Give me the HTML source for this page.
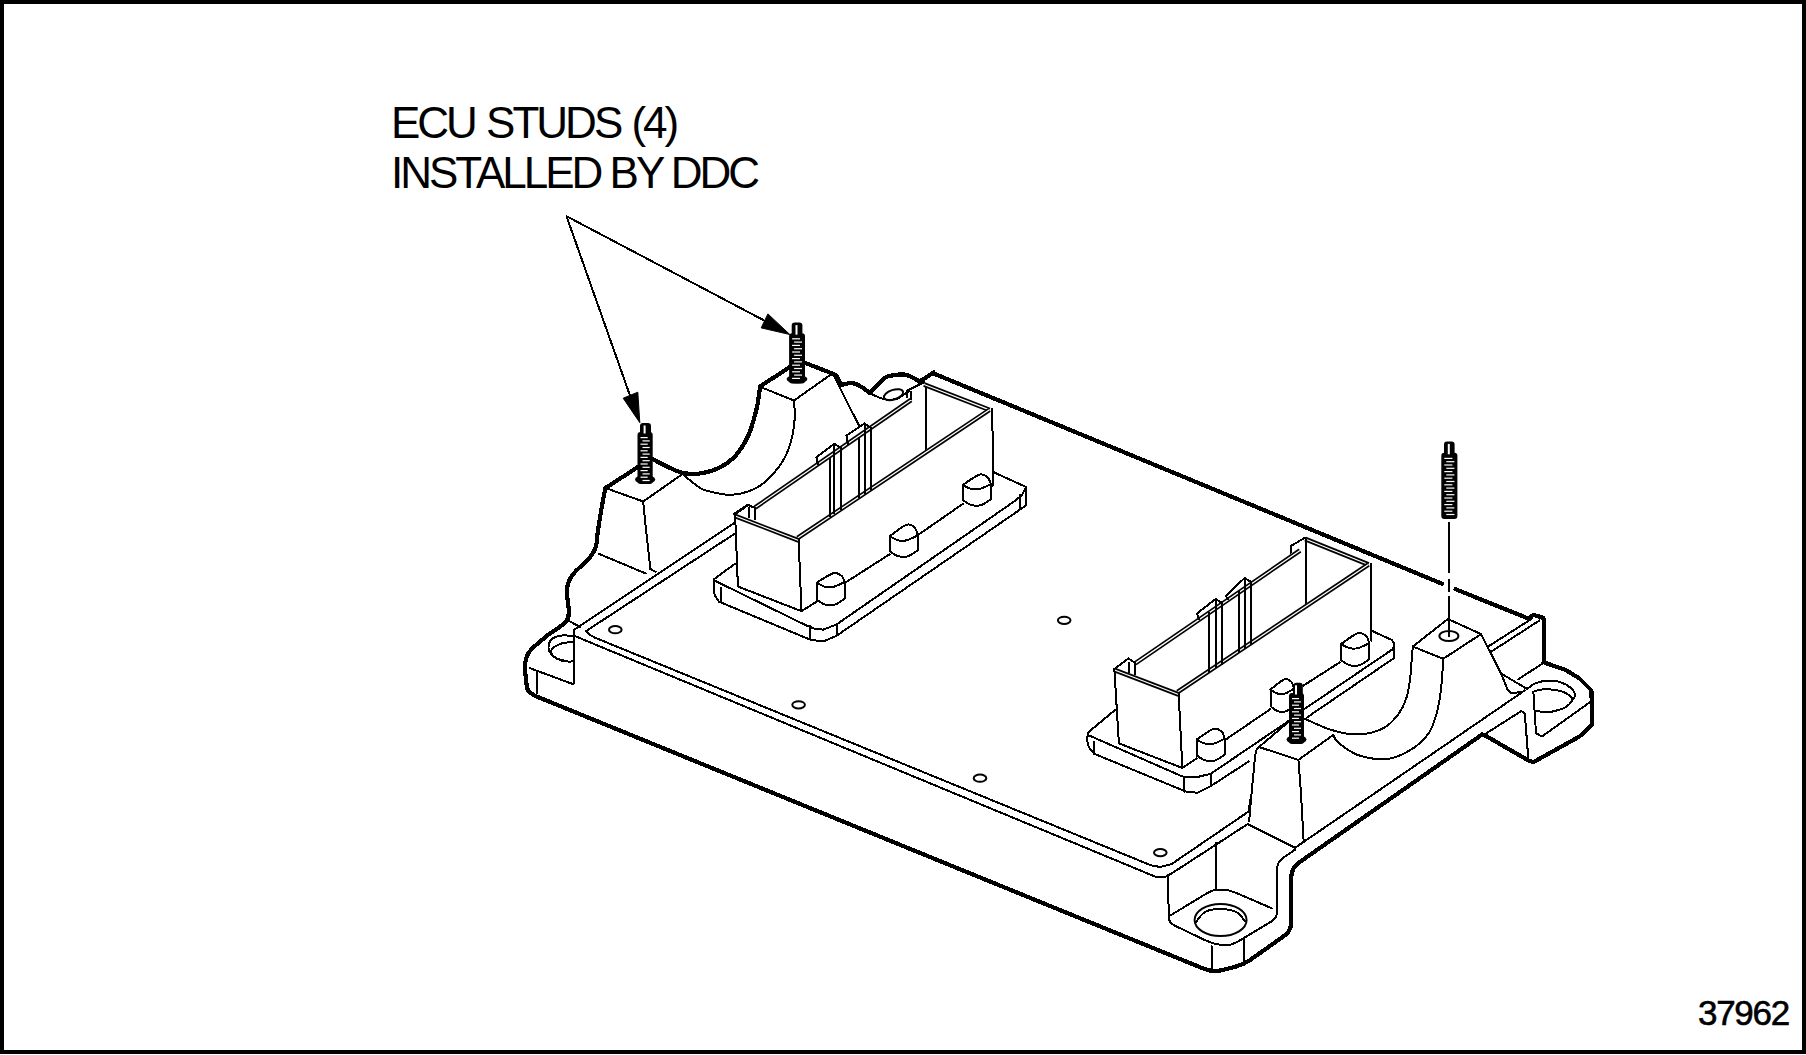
<!DOCTYPE html>
<html><head><meta charset="utf-8">
<style>
html,body{margin:0;padding:0;background:#fff;}
body{width:1806px;height:1055px;overflow:hidden;position:relative;}
.frame{position:absolute;left:0;top:0;width:1798px;height:1046px;border:4px solid #000;}
.t{position:absolute;font-family:"Liberation Sans",sans-serif;color:#000;white-space:nowrap;line-height:1;}
svg{position:absolute;left:0;top:0;}
.k{fill:none;stroke:#000;stroke-width:4.2;shape-rendering:crispEdges;stroke-linejoin:round;stroke-linecap:round;}
.n{fill:none;stroke:#000;stroke-width:2;shape-rendering:crispEdges;stroke-linejoin:round;stroke-linecap:round;}
</style></head><body>
<div class="frame"></div>
<div class="t" style="left:391px;top:101px;font-size:44px;letter-spacing:-3px;word-spacing:2px;">ECU STUDS (4)</div>
<div class="t" style="left:391px;top:151px;font-size:44px;letter-spacing:-3px;">INSTALLED BY DDC</div>
<div class="t" style="left:1698px;top:995px;font-size:35px;letter-spacing:-1.3px;-webkit-text-stroke:0.6px #000;">37962</div>
<svg width="1806" height="1055" viewBox="0 0 1806 1055">
<path class="n" d="M566.5 216.2 L768.5 322.8" stroke-width="2"/>
<path class="n" d="M566.5 216.2 L630.5 397" stroke-width="2"/>
<path d="M789.8 334.5 L767.9 313.9 L761.2 327.9 Z" fill="#000" stroke="#000" stroke-width="1"/>
<path d="M639.8 422.7 L623.2 398.2 L637.8 392.2 Z" fill="#000" stroke="#000" stroke-width="1"/>
<path class="k" d="M605.5 488 C605 490.2 604 494.5 602.8 501.5 C601.5 508.5 599.2 522.4 598 530 C596.8 537.6 597.3 542.3 595.8 547 C594.3 551.7 593 553.6 589 558.4 C585 563.1 575.7 570.2 572 575.5 C568.3 580.8 567.5 583.9 567 590 C566.5 596.1 569.1 606.5 568.8 612 C568.5 617.5 568.5 618.9 565 622.7 C561.5 626.5 553.8 630.3 548 635 C542.2 639.7 533.8 646.3 530 651 C526.2 655.7 525.9 658.6 525.2 663.4 C524.5 668.2 525.5 675.6 526 680 C526.5 684.4 526.5 687.4 528 690 C529.5 692.6 533.6 694.8 534.7 695.7"/>
<path class="k" d="M605.5 488 L638 467"/>
<path class="k" d="M653.3 459.5 C655.8 460.8 663.1 464.8 668 467 C672.9 469.2 677.2 471.7 682.5 472.8 C687.8 473.9 693.5 474.4 699.7 473.5 C705.9 472.6 713.6 470.5 719.6 467.5 C725.6 464.5 730.7 461.1 735.6 455.6 C740.5 450.1 745.3 442.3 748.8 434.3 C752.3 426.3 754.9 415.8 756.8 407.8 C758.7 399.8 759.5 390.1 760.1 386.5"/>
<path class="n" d="M605.5 488 L643.2 501.5 L681.1 475"/>
<path class="n" d="M643.2 501.5 C643.5 504.6 643.9 509.6 645 520 C646.1 530.4 648.8 555.8 649.8 564 C650.8 572.2 650 567.7 651 569 C652 570.3 654.8 571.2 655.5 571.7"/>
<path class="n" d="M598.6 553.7 L646 573.6"/>
<path class="n" d="M794 400.5 C794.1 403.7 795.3 412.3 794.6 419.7 C793.9 427.1 792.5 437.1 790 444.9 C787.5 452.6 784.4 459.3 779.3 466.2 C774.2 473.1 767.1 481.4 759.4 486.1 C751.7 490.9 741.7 493.9 732.9 494.7 C724.1 495.5 712.6 492.3 706.4 490.7 C700.2 489.1 699.7 487.6 695.7 484.8 C691.7 482 684.7 475.9 682.5 474.1"/>
<path class="k" d="M760.1 386.5 L789 367.5"/>
<path class="k" d="M804.6 362.7 C808.2 364.1 821.4 369.2 826 371 C830.6 372.8 830.3 372.7 832 373.5 C833.7 374.3 834.9 374.1 836.4 376 C837.9 377.9 840.2 383.5 841 385"/>
<path class="k" d="M841 385 C842.3 384.7 846.5 383.5 849 383.3 C851.5 383.1 853.2 383 855.7 383.9 C858.2 384.8 861.4 386.9 863.7 388.4 C866 389.9 868.5 392.2 869.4 393"/>
<path class="k" d="M869.4 393 C871.1 391.3 876.8 385.5 879.6 382.8 C882.5 380.1 883.6 378.3 886.5 377 C889.4 375.7 893.5 375.2 896.7 374.8 C899.9 374.4 902.9 374.2 905.8 374.8 C908.6 375.4 911.5 377.1 913.8 378.2 C916.1 379.3 918.5 381 919.5 381.6"/>
<path class="k" d="M919.5 381.6 L933.7 372.5"/>
<path class="k" d="M933.7 373.5 L1442.2 583.8"/>
<path class="k" d="M1455.5 589.2 L1528.3 618.5 L1533.4 615 L1542.8 617.5 L1543.6 619 L1543.6 661.4"/>
<path class="n" d="M762.8 387.9 L794 400.5 L829.8 375.3"/>
<path class="n" d="M834 376 L859.2 426"/>
<path class="n" d="M869.4 393 C870.8 393.7 875.2 395.9 878 397 C880.8 398.1 882.8 399.2 886 399.5 C889.2 399.8 893.2 400.1 897 398.7 C900.8 397.3 907 392.3 909 391"/>
<ellipse cx="893.5" cy="394.7" rx="10" ry="4.8" transform="rotate(-18 893.5 394.7)" fill="none" stroke="#000" stroke-width="2"/>
<path d="M924 384.5 L989.5 409.8" fill="none" stroke="#000" stroke-width="4.6" stroke-linejoin="miter" stroke-linecap="butt"/>
<path d="M924 384.5 L989.5 409.8" fill="none" stroke="#fff" stroke-width="1.3" stroke-linejoin="miter" stroke-linecap="butt"/>
<path d="M989.5 409.8 L797.6 538" fill="none" stroke="#000" stroke-width="4.6" stroke-linejoin="miter" stroke-linecap="butt"/>
<path d="M989.5 409.8 L797.6 538" fill="none" stroke="#fff" stroke-width="1.3" stroke-linejoin="miter" stroke-linecap="butt"/>
<path d="M755.2 507.5 L911 400" fill="none" stroke="#000" stroke-width="4.6" stroke-linejoin="miter" stroke-linecap="butt"/>
<path d="M755.2 507.5 L911 400" fill="none" stroke="#fff" stroke-width="1.3" stroke-linejoin="miter" stroke-linecap="butt"/>
<path class="n" d="M734.2 513.9 L747.8 504.7 L755.2 507.7"/>
<path class="n" d="M749 507.7 L749 517"/>
<path class="n" d="M755.2 507.7 L755.2 519.4"/>
<path class="n" d="M907 397.5 L907.3 390.5 L924.3 382"/>
<path class="n" d="M911.3 392 L911.3 399.5"/>
<path class="n" d="M818 464.5 L816.3 457.2 L834.4 443.8 L840.7 448"/>
<path class="n" d="M848 444 L846.4 435.6 L864.6 423.4 L870.8 428"/>
<path class="n" d="M829.9 458.5 L829.9 516.4" stroke-width="1.8"/>
<path class="n" d="M834.4 445 L834.4 513.4" stroke-width="1.8"/>
<path class="n" d="M840.7 448 L840.7 509.2" stroke-width="1.8"/>
<path class="n" d="M858.9 437.5 L858.9 497.1" stroke-width="1.8"/>
<path class="n" d="M864.6 424.5 L864.6 493.3" stroke-width="1.8"/>
<path class="n" d="M870.8 428.5 L870.8 489.1" stroke-width="1.8"/>
<path class="n" d="M925.7 388 L925.7 448.6"/>
<path class="n" d="M992.3 409 L993 482.8"/>
<path d="M735.1 516 L798.6 540.5" fill="none" stroke="#000" stroke-width="4.6" stroke-linejoin="miter" stroke-linecap="butt"/>
<path d="M735.1 516 L798.6 540.5" fill="none" stroke="#fff" stroke-width="1.3" stroke-linejoin="miter" stroke-linecap="butt"/>
<path class="n" d="M735.1 514.5 L737.9 586.5 L801.5 611.2 L798.6 539.1"/>
<path class="n" d="M735.1 514.5 L748 505 L755 508 L755 518"/>
<path class="n" d="M801.5 611.2 L816.6 601.7"/>
<path class="n" d="M845 582.8 L889.6 554.3"/>
<path class="n" d="M918 535 L962.7 504"/>
<path class="n" d="M991 487 L993 485"/>
<path class="n" d="M714.2 579 L735 563.8"/>
<path class="n" d="M715.2 580.9 L806.2 625.4 L815 629 L823.3 629.6 L836.5 624.5 L1013.8 501.7 L1022 495 L1026 487 L993.9 472.3"/>
<path class="n" d="M719 601.7 L810 639.6 L823.3 641.5 L836.5 635.8 L1026 505.5"/>
<path class="n" d="M714.2 579 C714.2 581.3 713.4 589.2 714.2 593 C715 596.8 718.2 600.2 719 601.7"/>
<path class="n" d="M720.9 588 L720.9 601.7"/>
<path class="n" d="M810 626 L810 639.6"/>
<path class="n" d="M836.5 624.5 L836.5 635.8"/>
<path class="n" d="M1026 487 L1026 505.5"/>
<path class="n" d="M1020 495 L1020 509"/>
<path class="n" d="M573.5 630.3 L735 522.4"/>
<path class="n" d="M585.9 631.2 L735 533.5"/>
<path class="n" d="M816.6 582.8 C819.3 581.2 828.9 574.5 833.1 573.3 C837.2 572.1 839.6 574.2 841.6 575.8 C843.6 577.4 844.4 581.6 845 582.8"/>
<path class="n" d="M816.6 582.8 C818 583.5 822.3 586.1 825.1 586.8 C828 587.5 830.3 587.6 833.6 586.8 C837 586 843.1 582.6 845 581.8"/>
<path class="n" d="M816.6 582.8 L816.6 599.6"/>
<path class="n" d="M845 581.8 L845 598.6"/>
<path class="n" d="M816.6 599.6 C818 600.4 822 603.8 825.1 604.6 C828.2 605.4 831.7 605.6 835.1 604.6 C838.4 603.6 843.3 599.6 845 598.6"/>
<path class="n" d="M889.6 536.3 C892.3 534.4 901.9 526.4 906.1 524.9 C910.2 523.4 912.6 525.5 914.6 527.4 C916.6 529.3 917.4 534.8 918 536.3"/>
<path class="n" d="M889.6 536.3 C891 537 895.3 539.6 898.1 540.3 C901 541 903.3 541.1 906.6 540.3 C910 539.5 916.1 536.1 918 535.3"/>
<path class="n" d="M889.6 536.3 L889.6 551.2"/>
<path class="n" d="M918 535.3 L918 550.2"/>
<path class="n" d="M889.6 551.2 C891 552 895 555.4 898.1 556.2 C901.2 557 904.7 557.2 908.1 556.2 C911.4 555.2 916.3 551.2 918 550.2"/>
<path class="n" d="M962.7 485 C965.4 483.3 975 476 979.2 474.7 C983.3 473.4 985.7 475.5 987.7 477.2 C989.7 478.9 990.5 483.7 991.1 485"/>
<path class="n" d="M962.7 485 C964.1 485.7 968.4 488.3 971.2 489 C974.1 489.7 976.4 489.8 979.7 489 C983.1 488.2 989.2 484.8 991.1 484"/>
<path class="n" d="M962.7 485 L962.7 500"/>
<path class="n" d="M991.1 484 L991.1 499"/>
<path class="n" d="M962.7 500 C964.1 500.8 968.1 504.2 971.2 505 C974.3 505.8 977.8 506 981.2 505 C984.5 504 989.4 500 991.1 499"/>
<path class="n" d="M573.5 630.3 L573.5 684.3"/>
<path class="n" d="M530 668.2 L573.5 684.3"/>
<path class="n" d="M536.5 671 L536.5 693.8"/>
<path class="n" d="M568.8 620.8 L580 627"/>
<path class="n" d="M572.6 636 C570.8 635.9 565.4 635 562 635.5 C558.6 636 554.2 636.9 552 639 C549.8 641.1 548.3 645.2 548.5 648 C548.7 650.8 550.6 653.8 553 656 C555.4 658.2 559.7 660.1 563 661 C566.3 661.9 571 661.4 572.6 661.5"/>
<path class="n" d="M572.6 642 C570.5 642.3 563.6 642.5 560 644 C556.4 645.5 551.7 648.7 551 651 C550.3 653.3 553.5 656.3 556 658 C558.5 659.7 564.3 660.5 566 661"/>
<path class="n" d="M573.5 635.5 L1156.6 877.2 L1164 877.5 L1171.7 873.4 L1247.6 824.1 L1295 847.8 L1460 734.9"/>
<path class="n" d="M585.9 631.2 L590 635 L595.3 637.8 L1150.7 865.2 L1160 867 L1171.7 864 L1249.5 810.9"/>
<path class="k" d="M534.7 695.7 L1203.7 968.7 Q1213 972.5 1222.7 970 L1236.1 966.5 Q1243.8 964.5 1250.3 959.9 L1284.5 935.6 Q1291 931 1291 923 L1291.2 878 Q1291.2 868 1299.4 862.3 L1482 734.6"/>
<ellipse cx="615.3" cy="629.7" rx="6.3" ry="3.6" transform="rotate(0 615.3 629.7)" fill="none" stroke="#000" stroke-width="2"/>
<ellipse cx="798.6" cy="704.8" rx="6.3" ry="3.6" transform="rotate(0 798.6 704.8)" fill="none" stroke="#000" stroke-width="2"/>
<ellipse cx="980" cy="778.2" rx="6.3" ry="3.6" transform="rotate(0 980 778.2)" fill="none" stroke="#000" stroke-width="2"/>
<ellipse cx="1160.3" cy="852.6" rx="6.3" ry="3.6" transform="rotate(0 1160.3 852.6)" fill="none" stroke="#000" stroke-width="2"/>
<ellipse cx="1064.2" cy="620.3" rx="6.3" ry="3.6" transform="rotate(0 1064.2 620.3)" fill="none" stroke="#000" stroke-width="2"/>
<path d="M1305.2 539 L1368.5 564.5" fill="none" stroke="#000" stroke-width="4.6" stroke-linejoin="miter" stroke-linecap="butt"/>
<path d="M1305.2 539 L1368.5 564.5" fill="none" stroke="#fff" stroke-width="1.3" stroke-linejoin="miter" stroke-linecap="butt"/>
<path d="M1368.5 564.5 L1177.6 692" fill="none" stroke="#000" stroke-width="4.6" stroke-linejoin="miter" stroke-linecap="butt"/>
<path d="M1368.5 564.5 L1177.6 692" fill="none" stroke="#fff" stroke-width="1.3" stroke-linejoin="miter" stroke-linecap="butt"/>
<path d="M1135.2 663.4 L1300 550.5" fill="none" stroke="#000" stroke-width="4.6" stroke-linejoin="miter" stroke-linecap="butt"/>
<path d="M1135.2 663.4 L1300 550.5" fill="none" stroke="#fff" stroke-width="1.3" stroke-linejoin="miter" stroke-linecap="butt"/>
<path class="n" d="M1114.2 669 L1128.4 658.5 L1135.2 662.8"/>
<path class="n" d="M1129 662.8 L1129 672"/>
<path class="n" d="M1135.2 662.8 L1135.2 674.5"/>
<path class="n" d="M1290.5 553 L1290.5 546.2 L1305.2 537.6"/>
<path class="n" d="M1197 613.5 L1215.6 599 L1222.2 603"/>
<path class="n" d="M1197 613.5 L1199 619"/>
<path class="n" d="M1226 596 L1244.5 578 L1251.1 582"/>
<path class="n" d="M1226 596 L1228 599.5"/>
<path class="n" d="M1208.5 612 L1208.5 672.9" stroke-width="1.8"/>
<path class="n" d="M1215.6 600 L1215.6 668.1" stroke-width="1.8"/>
<path class="n" d="M1222.2 604 L1222.2 663.7" stroke-width="1.8"/>
<path class="n" d="M1239.3 592 L1239.3 652.1" stroke-width="1.8"/>
<path class="n" d="M1244.5 579 L1244.5 648.6" stroke-width="1.8"/>
<path class="n" d="M1251.1 583 L1251.1 644.2" stroke-width="1.8"/>
<path class="n" d="M1305.7 540 L1305.7 602.6"/>
<path class="n" d="M1371 563.7 L1371.1 640.7"/>
<path d="M1114.5 670 L1178.6 694.5" fill="none" stroke="#000" stroke-width="4.6" stroke-linejoin="miter" stroke-linecap="butt"/>
<path d="M1114.5 670 L1178.6 694.5" fill="none" stroke="#fff" stroke-width="1.3" stroke-linejoin="miter" stroke-linecap="butt"/>
<path class="n" d="M1114.3 668.5 L1118.9 743.4 L1182.4 768 L1178.6 693.1"/>
<path class="n" d="M1182.4 768 L1196.6 758.5"/>
<path class="n" d="M1225.1 740 L1270.5 709"/>
<path class="n" d="M1303.4 685.6 L1339.8 662.3"/>
<path class="n" d="M1196.6 739.6 C1199.4 737.9 1208.9 730.4 1213.1 729.1 C1217.3 727.8 1219.7 729.9 1221.7 731.6 C1223.7 733.4 1224.5 738.3 1225.1 739.6"/>
<path class="n" d="M1196.6 739.6 C1198 740.3 1202.3 742.9 1205.1 743.6 C1208 744.3 1210.4 744.4 1213.7 743.6 C1217 742.8 1223.2 739.4 1225.1 738.6"/>
<path class="n" d="M1196.6 739.6 L1196.6 755.4"/>
<path class="n" d="M1225.1 738.6 L1225.1 754.4"/>
<path class="n" d="M1196.6 755.4 C1198 756.2 1202.1 759.6 1205.1 760.4 C1208.2 761.2 1211.8 761.4 1215.1 760.4 C1218.5 759.4 1223.4 755.4 1225.1 754.4"/>
<path class="n" d="M1270.5 689.6 C1272.8 687.9 1280.8 680.7 1284.3 679.4 C1287.8 678.1 1289.8 680.2 1291.4 681.9 C1293.1 683.6 1293.8 688.3 1294.3 689.6"/>
<path class="n" d="M1270.5 689.6 C1271.7 690.3 1275.3 692.9 1277.6 693.6 C1280 694.3 1282 694.4 1284.8 693.6 C1287.6 692.8 1292.7 689.4 1294.3 688.6"/>
<path class="n" d="M1270.5 689.6 L1270.5 706.2"/>
<path class="n" d="M1294.3 688.6 L1294.3 705.2"/>
<path class="n" d="M1270.5 706.2 C1271.7 707 1275.1 710.4 1277.6 711.2 C1280.2 712 1283.2 712.2 1286 711.2 C1288.7 710.2 1292.9 706.2 1294.3 705.2"/>
<path class="n" d="M1341 644.1 C1343.7 642.3 1353.3 634.7 1357.5 633.3 C1361.6 631.9 1364 634 1366 635.8 C1368 637.6 1368.8 642.7 1369.4 644.1"/>
<path class="n" d="M1341 644.1 C1342.4 644.8 1346.7 647.4 1349.5 648.1 C1352.4 648.8 1354.7 648.9 1358 648.1 C1361.4 647.3 1367.5 643.9 1369.4 643.1"/>
<path class="n" d="M1341 644.1 L1341 660.2"/>
<path class="n" d="M1369.4 643.1 L1369.4 659.2"/>
<path class="n" d="M1341 660.2 C1342.4 661 1346.4 664.4 1349.5 665.2 C1352.6 666 1356.1 666.2 1359.5 665.2 C1362.8 664.2 1367.7 660.2 1369.4 659.2"/>
<path class="n" d="M1087.6 732.9 L1115 710"/>
<path class="n" d="M1087.6 734.8 L1182.4 776.5 L1197.6 777 L1210.9 773.7 L1290 720"/>
<path class="n" d="M1304.6 708.9 L1392.7 649.2 L1394.4 644.1 L1392.1 640.1 L1371.1 630.5"/>
<path class="n" d="M1094.2 753.8 L1186.2 791.7 L1197.6 792.7 L1210.9 786 L1248.8 761.4"/>
<path class="n" d="M1306.9 717.5 L1394.4 657.8"/>
<path class="n" d="M1087.6 733 C1087.7 735 1086.9 741.5 1088 745 C1089.1 748.5 1093.2 752.3 1094.2 753.8"/>
<path class="n" d="M1094.2 742 L1094.2 753.8"/>
<path class="n" d="M1184.3 777 L1184.3 791.7"/>
<path class="n" d="M1210.9 773.7 L1210.9 786"/>
<path class="n" d="M1394.4 644 L1394.4 657.8"/>
<path class="n" d="M1249.1 809.2 L1250 800"/>
<path class="n" d="M1259 747 L1298.4 759.9 L1333.3 734.9"/>
<path class="n" d="M1259 747 L1289 721.5"/>
<path class="n" d="M1305.2 719 C1309.1 720.7 1321.4 726.5 1328.4 729 C1335.4 731.5 1341.1 732.9 1347.4 733.7 C1353.7 734.5 1360.1 734.8 1366.4 733.7 C1372.7 732.6 1379.9 730.4 1385.3 727.1 C1390.7 723.8 1395.1 718.5 1398.6 713.8 C1402.1 709 1404.3 704.3 1406.2 698.6 C1408.1 692.9 1409 686.7 1410 679.7 C1411 672.8 1411.4 662.4 1411.9 656.9 C1412.4 651.4 1412.7 648.2 1412.8 646.5"/>
<path class="n" d="M1333.3 734.9 C1334.1 736.1 1334 738.9 1337.9 742.2 C1341.8 745.5 1349.9 751.8 1356.9 754.6 C1363.9 757.5 1373.4 758.8 1379.7 759.3 C1386 759.8 1389.1 759.3 1394.8 757.4 C1400.5 755.5 1408.1 752 1413.8 747.9 C1419.5 743.8 1425.2 738.5 1429 732.8 C1432.8 727.1 1434.6 720.1 1436.5 713.8 C1438.4 707.5 1439.3 701.1 1440.3 694.8 C1441.2 688.5 1441.7 681.9 1442.2 675.9 C1442.7 669.9 1443 661.6 1443.2 658.8"/>
<path class="n" d="M1259 747 C1258.5 747.8 1256.8 747.3 1255.9 751.6 C1255 755.9 1254.6 761.2 1253.5 772.8 C1252.4 784.4 1249.8 813.2 1249.1 821.3"/>
<path class="n" d="M1298.4 759.9 L1300.9 791.7 L1303.7 842.5"/>
<path class="n" d="M1216.3 843.1 L1216.3 888.6"/>
<path class="n" d="M1167.9 877.2 L1168.8 916.8 Q1168.9 922.8 1174.3 925.4 L1205.1 940.2 Q1213 944 1221.8 945 L1222.6 945.1 Q1230.5 946 1237.4 941.9 L1271.9 921.1 Q1277 918 1277 912 L1277 870 Q1277 862 1283.6 857.5 L1295 849.7"/>
<path class="n" d="M1170.8 915.2 L1206.3 893.6 Q1213 889.5 1220.8 889.5 L1220.8 889.5 Q1228.6 889.6 1235.8 892.7 L1272.2 908.5"/>
<path class="n" d="M1211.5 945.5 L1211.5 971"/>
<path class="n" d="M1243.8 939.8 L1243.8 964.5"/>
<ellipse cx="1220.6" cy="920" rx="26" ry="16" transform="rotate(0 1220.6 920)" fill="none" stroke="#000" stroke-width="2"/>
<path class="n" d="M1196 922 C1197.5 920.3 1201 914.2 1205 912 C1209 909.8 1214.8 909 1220 909 C1225.2 909 1231.8 910 1236 912 C1240.2 914 1243.5 919.5 1245 921"/>
<path class="n" d="M1412.8 646.5 L1447.9 619 L1481.1 634.1 L1443.2 658.8 L1412.8 646.5"/>
<ellipse cx="1448.9" cy="636" rx="9.5" ry="5" transform="rotate(0 1448.9 636)" fill="none" stroke="#000" stroke-width="2"/>
<path class="n" d="M1481.1 634.1 L1501 673.4 L1507.8 690.4 L1511.2 693 L1521.4 692.2"/>
<path class="n" d="M1501 673.4 L1526.6 688.7"/>
<path class="k" d="M1543.6 662.3 L1565.8 670 L1579.5 678.5 L1591.4 690.4 L1592.3 724.6 L1579.5 736.5 L1548.7 753.6 L1533.4 762.1 L1528.3 760.4 L1483.9 734.8"/>
<path class="n" d="M1489 646 L1531.7 618.8"/>
<path class="n" d="M1490.7 652 L1539.4 620.5"/>
<path class="n" d="M1518 679.4 L1541.9 664"/>
<path class="n" d="M1460 734.8 L1524.8 690.4"/>
<path class="n" d="M1483.9 734.8 L1521.4 711 L1524.8 713.5 L1528.3 758.7"/>
<path class="n" d="M1533.4 692.2 L1536 733.1 L1541.9 736.5 L1589.7 702.4"/>
<path class="n" d="M1527.4 688.8 C1528.7 687.9 1531.8 684.8 1535 683.5 C1538.2 682.2 1542.2 681 1546.4 680.8 C1550.6 680.5 1555.9 680.8 1560 682 C1564.1 683.2 1568.5 685.9 1571 688 C1573.5 690.1 1574.9 693.1 1575.2 694.9 C1575.5 696.7 1573.4 698.3 1573 699"/>
<path class="n" d="M1532.7 691.8 C1533.9 691.5 1537.5 690.2 1540 689.8 C1542.5 689.4 1544.4 689 1547.9 689.2 C1551.4 689.4 1557.3 690.1 1560.8 691.1 C1564.3 692.1 1567.1 693.6 1569 695 C1570.9 696.4 1572.2 697.8 1572.2 699.4 C1572.2 701 1570.5 703 1569 704.5 C1567.5 706 1566.5 707.2 1563 708.5 C1559.5 709.8 1552.4 711.9 1547.9 712.3 C1543.4 712.7 1537.8 711 1535.8 710.8"/>
<rect x="640" y="423" width="11" height="12" rx="3" fill="#000"/>
<rect x="637.5" y="432" width="15.2" height="52" rx="3" fill="#000"/>
<ellipse cx="645.1" cy="479.5" rx="10.1" ry="4.5" fill="#000"/>
<rect x="643.6" y="425.5" width="2" height="8" fill="#fff"/>
<rect x="640.5" y="437" width="7.2" height="1.2" fill="#fff"/>
<rect x="642.5" y="440.3" width="7.2" height="1.2" fill="#fff"/>
<rect x="640.5" y="443.6" width="7.2" height="1.2" fill="#fff"/>
<rect x="642.5" y="446.9" width="7.2" height="1.2" fill="#fff"/>
<rect x="640.5" y="450.2" width="7.2" height="1.2" fill="#fff"/>
<rect x="642.5" y="453.5" width="7.2" height="1.2" fill="#fff"/>
<rect x="640.5" y="456.8" width="7.2" height="1.2" fill="#fff"/>
<rect x="642.5" y="460.1" width="7.2" height="1.2" fill="#fff"/>
<rect x="640.5" y="463.4" width="7.2" height="1.2" fill="#fff"/>
<rect x="642.5" y="466.7" width="7.2" height="1.2" fill="#fff"/>
<rect x="640.5" y="470" width="7.2" height="1.2" fill="#fff"/>
<rect x="642.5" y="473.3" width="7.2" height="1.2" fill="#fff"/>
<rect x="640.5" y="476.6" width="7.2" height="1.2" fill="#fff"/>
<rect x="642.5" y="479.9" width="7.2" height="1.2" fill="#fff"/>
<rect x="791.7" y="322.6" width="10.7" height="13.6" rx="3" fill="#000"/>
<rect x="789.1" y="333.2" width="15.9" height="50.4" rx="3" fill="#000"/>
<ellipse cx="797" cy="379.1" rx="10.4" ry="4.5" fill="#000"/>
<rect x="795.5" y="325.1" width="2" height="9.6" fill="#fff"/>
<rect x="792.1" y="338.2" width="7.9" height="1.2" fill="#fff"/>
<rect x="794.1" y="341.5" width="7.9" height="1.2" fill="#fff"/>
<rect x="792.1" y="344.8" width="7.9" height="1.2" fill="#fff"/>
<rect x="794.1" y="348.1" width="7.9" height="1.2" fill="#fff"/>
<rect x="792.1" y="351.4" width="7.9" height="1.2" fill="#fff"/>
<rect x="794.1" y="354.7" width="7.9" height="1.2" fill="#fff"/>
<rect x="792.1" y="358" width="7.9" height="1.2" fill="#fff"/>
<rect x="794.1" y="361.3" width="7.9" height="1.2" fill="#fff"/>
<rect x="792.1" y="364.6" width="7.9" height="1.2" fill="#fff"/>
<rect x="794.1" y="367.9" width="7.9" height="1.2" fill="#fff"/>
<rect x="792.1" y="371.2" width="7.9" height="1.2" fill="#fff"/>
<rect x="794.1" y="374.5" width="7.9" height="1.2" fill="#fff"/>
<rect x="792.1" y="377.8" width="7.9" height="1.2" fill="#fff"/>
<rect x="1293.4" y="682.8" width="9.4" height="13.2" rx="3" fill="#000"/>
<rect x="1289" y="693" width="15" height="51" rx="3" fill="#000"/>
<ellipse cx="1296.5" cy="739.5" rx="10" ry="4.5" fill="#000"/>
<rect x="1295" y="685.3" width="2" height="9.2" fill="#fff"/>
<rect x="1292" y="698" width="7" height="1.2" fill="#fff"/>
<rect x="1294" y="701.3" width="7" height="1.2" fill="#fff"/>
<rect x="1292" y="704.6" width="7" height="1.2" fill="#fff"/>
<rect x="1294" y="707.9" width="7" height="1.2" fill="#fff"/>
<rect x="1292" y="711.2" width="7" height="1.2" fill="#fff"/>
<rect x="1294" y="714.5" width="7" height="1.2" fill="#fff"/>
<rect x="1292" y="717.8" width="7" height="1.2" fill="#fff"/>
<rect x="1294" y="721.1" width="7" height="1.2" fill="#fff"/>
<rect x="1292" y="724.4" width="7" height="1.2" fill="#fff"/>
<rect x="1294" y="727.7" width="7" height="1.2" fill="#fff"/>
<rect x="1292" y="731" width="7" height="1.2" fill="#fff"/>
<rect x="1294" y="734.3" width="7" height="1.2" fill="#fff"/>
<rect x="1292" y="737.6" width="7" height="1.2" fill="#fff"/>
<rect x="1444" y="441.4" width="10.6" height="14.4" rx="3" fill="#000"/>
<rect x="1441.3" y="452.8" width="16.1" height="66.2" rx="3" fill="#000"/>
<rect x="1447.8" y="443.9" width="2" height="10.4" fill="#fff"/>
<rect x="1444.3" y="457.8" width="8.1" height="1.2" fill="#fff"/>
<rect x="1446.3" y="461.1" width="8.1" height="1.2" fill="#fff"/>
<rect x="1444.3" y="464.4" width="8.1" height="1.2" fill="#fff"/>
<rect x="1446.3" y="467.7" width="8.1" height="1.2" fill="#fff"/>
<rect x="1444.3" y="471" width="8.1" height="1.2" fill="#fff"/>
<rect x="1446.3" y="474.3" width="8.1" height="1.2" fill="#fff"/>
<rect x="1444.3" y="477.6" width="8.1" height="1.2" fill="#fff"/>
<rect x="1446.3" y="480.9" width="8.1" height="1.2" fill="#fff"/>
<rect x="1444.3" y="484.2" width="8.1" height="1.2" fill="#fff"/>
<rect x="1446.3" y="487.5" width="8.1" height="1.2" fill="#fff"/>
<rect x="1444.3" y="490.8" width="8.1" height="1.2" fill="#fff"/>
<rect x="1446.3" y="494.1" width="8.1" height="1.2" fill="#fff"/>
<rect x="1444.3" y="497.4" width="8.1" height="1.2" fill="#fff"/>
<rect x="1446.3" y="500.7" width="8.1" height="1.2" fill="#fff"/>
<rect x="1444.3" y="504" width="8.1" height="1.2" fill="#fff"/>
<rect x="1446.3" y="507.3" width="8.1" height="1.2" fill="#fff"/>
<rect x="1444.3" y="510.6" width="8.1" height="1.2" fill="#fff"/>
<rect x="1446.3" y="513.9" width="8.1" height="1.2" fill="#fff"/>
<path class="n" d="M1449.3 522.9 L1449.3 572.2" stroke-width="1.5"/>
<path class="n" d="M1449.3 579.8 L1449.3 591.2" stroke-width="1.5"/>
<path class="n" d="M1449.3 596.9 L1449.3 636" stroke-width="1.5"/>
</svg>
</body></html>
